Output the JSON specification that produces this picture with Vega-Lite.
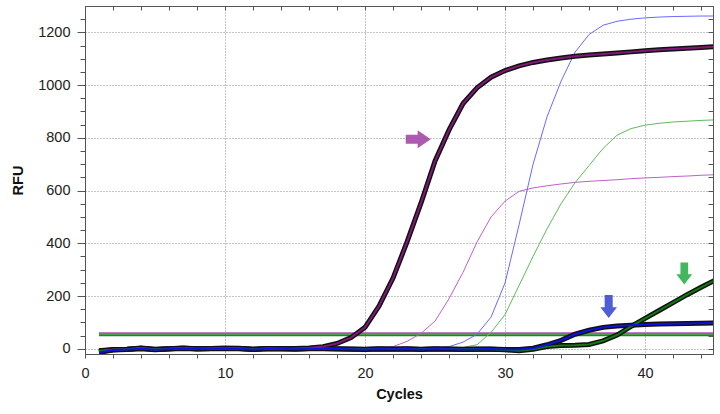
{
  "$schema": "https://vega.github.io/schema/vega-lite/v6.json",
  "width": 628,
  "height": 348,
  "autosize": {"type": "none"},
  "padding": {"left": 85, "top": 6, "right": 7, "bottom": 60},
  "background": "white",
  "config": {
    "view": {"stroke": "#555"},
    "font": "Liberation Sans",
    "axis": {"labelFont": "Liberation Sans", "titleFont": "Liberation Sans", "labelFontSize": 14.5, "titleFontSize": 14.5, "labelColor": "#222", "titleColor": "#111", "domainColor": "#555", "tickColor": "#555", "labelOverlap": false, "labelFlush": false}
  },
  "datasets": {
    "thr": [
      {"s": "T1", "c": 1, "v": 59}, {"s": "T1", "c": 45, "v": 59},
      {"s": "T2", "c": 1, "v": 51}, {"s": "T2", "c": 45, "v": 51}
    ],
    "thin": [
      {"s":"S2","c":1,"v":0},{"s":"S2","c":2,"v":0},{"s":"S2","c":3,"v":1},{"s":"S2","c":4,"v":1},{"s":"S2","c":5,"v":0},{"s":"S2","c":6,"v":0},{"s":"S2","c":7,"v":1},{"s":"S2","c":8,"v":0},{"s":"S2","c":9,"v":0},{"s":"S2","c":10,"v":1},{"s":"S2","c":11,"v":1},{"s":"S2","c":12,"v":0},{"s":"S2","c":13,"v":0},{"s":"S2","c":14,"v":1},{"s":"S2","c":15,"v":0},{"s":"S2","c":16,"v":0},{"s":"S2","c":17,"v":1},{"s":"S2","c":18,"v":1},{"s":"S2","c":19,"v":0},{"s":"S2","c":20,"v":1},{"s":"S2","c":21,"v":2},{"s":"S2","c":22,"v":8},{"s":"S2","c":23,"v":28},{"s":"S2","c":24,"v":58},{"s":"S2","c":25,"v":105},{"s":"S2","c":26,"v":190},{"s":"S2","c":27,"v":290},{"s":"S2","c":28,"v":405},{"s":"S2","c":29,"v":500},{"s":"S2","c":30,"v":560},{"s":"S2","c":31,"v":597},{"s":"S2","c":32,"v":610},{"s":"S2","c":33,"v":618},{"s":"S2","c":34,"v":625},{"s":"S2","c":35,"v":631},{"s":"S2","c":36,"v":635},{"s":"S2","c":37,"v":638},{"s":"S2","c":38,"v":641},{"s":"S2","c":39,"v":645},{"s":"S2","c":40,"v":648},{"s":"S2","c":41,"v":650},{"s":"S2","c":42,"v":653},{"s":"S2","c":43,"v":655},{"s":"S2","c":44,"v":658},{"s":"S2","c":45,"v":660},
      {"s":"S3","c":1,"v":0},{"s":"S3","c":2,"v":0},{"s":"S3","c":3,"v":0},{"s":"S3","c":4,"v":1},{"s":"S3","c":5,"v":0},{"s":"S3","c":6,"v":0},{"s":"S3","c":7,"v":1},{"s":"S3","c":8,"v":0},{"s":"S3","c":9,"v":0},{"s":"S3","c":10,"v":1},{"s":"S3","c":11,"v":0},{"s":"S3","c":12,"v":0},{"s":"S3","c":13,"v":0},{"s":"S3","c":14,"v":1},{"s":"S3","c":15,"v":0},{"s":"S3","c":16,"v":0},{"s":"S3","c":17,"v":0},{"s":"S3","c":18,"v":1},{"s":"S3","c":19,"v":0},{"s":"S3","c":20,"v":0},{"s":"S3","c":21,"v":0},{"s":"S3","c":22,"v":0},{"s":"S3","c":23,"v":1},{"s":"S3","c":24,"v":1},{"s":"S3","c":25,"v":2},{"s":"S3","c":26,"v":8},{"s":"S3","c":27,"v":25},{"s":"S3","c":28,"v":55},{"s":"S3","c":29,"v":120},{"s":"S3","c":30,"v":250},{"s":"S3","c":31,"v":470},{"s":"S3","c":32,"v":700},{"s":"S3","c":33,"v":880},{"s":"S3","c":34,"v":1015},{"s":"S3","c":35,"v":1125},{"s":"S3","c":36,"v":1192},{"s":"S3","c":37,"v":1227},{"s":"S3","c":38,"v":1242},{"s":"S3","c":39,"v":1250},{"s":"S3","c":40,"v":1255},{"s":"S3","c":41,"v":1258},{"s":"S3","c":42,"v":1260},{"s":"S3","c":43,"v":1261},{"s":"S3","c":44,"v":1262},{"s":"S3","c":45,"v":1262},
      {"s":"S4","c":1,"v":0},{"s":"S4","c":2,"v":0},{"s":"S4","c":3,"v":0},{"s":"S4","c":4,"v":0},{"s":"S4","c":5,"v":0},{"s":"S4","c":6,"v":1},{"s":"S4","c":7,"v":0},{"s":"S4","c":8,"v":0},{"s":"S4","c":9,"v":1},{"s":"S4","c":10,"v":0},{"s":"S4","c":11,"v":0},{"s":"S4","c":12,"v":0},{"s":"S4","c":13,"v":1},{"s":"S4","c":14,"v":0},{"s":"S4","c":15,"v":0},{"s":"S4","c":16,"v":0},{"s":"S4","c":17,"v":1},{"s":"S4","c":18,"v":0},{"s":"S4","c":19,"v":0},{"s":"S4","c":20,"v":0},{"s":"S4","c":21,"v":0},{"s":"S4","c":22,"v":1},{"s":"S4","c":23,"v":0},{"s":"S4","c":24,"v":0},{"s":"S4","c":25,"v":1},{"s":"S4","c":26,"v":1},{"s":"S4","c":27,"v":5},{"s":"S4","c":28,"v":15},{"s":"S4","c":29,"v":62},{"s":"S4","c":30,"v":130},{"s":"S4","c":31,"v":240},{"s":"S4","c":32,"v":350},{"s":"S4","c":33,"v":455},{"s":"S4","c":34,"v":550},{"s":"S4","c":35,"v":630},{"s":"S4","c":36,"v":695},{"s":"S4","c":37,"v":760},{"s":"S4","c":38,"v":810},{"s":"S4","c":39,"v":835},{"s":"S4","c":40,"v":848},{"s":"S4","c":41,"v":855},{"s":"S4","c":42,"v":860},{"s":"S4","c":43,"v":863},{"s":"S4","c":44,"v":866},{"s":"S4","c":45,"v":868}
    ],
    "thick": [
      {"s":"S1","c":1,"v":-8},{"s":"S1","c":2,"v":-3},{"s":"S1","c":3,"v":-2},{"s":"S1","c":4,"v":3},{"s":"S1","c":5,"v":-2},{"s":"S1","c":6,"v":0},{"s":"S1","c":7,"v":3},{"s":"S1","c":8,"v":0},{"s":"S1","c":9,"v":1},{"s":"S1","c":10,"v":2},{"s":"S1","c":11,"v":2},{"s":"S1","c":12,"v":-2},{"s":"S1","c":13,"v":1},{"s":"S1","c":14,"v":0},{"s":"S1","c":15,"v":1},{"s":"S1","c":16,"v":3},{"s":"S1","c":17,"v":8},{"s":"S1","c":18,"v":20},{"s":"S1","c":19,"v":42},{"s":"S1","c":20,"v":81},{"s":"S1","c":21,"v":162},{"s":"S1","c":22,"v":268},{"s":"S1","c":23,"v":405},{"s":"S1","c":24,"v":553},{"s":"S1","c":25,"v":712},{"s":"S1","c":26,"v":830},{"s":"S1","c":27,"v":930},{"s":"S1","c":28,"v":990},{"s":"S1","c":29,"v":1030},{"s":"S1","c":30,"v":1055},{"s":"S1","c":31,"v":1073},{"s":"S1","c":32,"v":1086},{"s":"S1","c":33,"v":1095},{"s":"S1","c":34,"v":1103},{"s":"S1","c":35,"v":1109},{"s":"S1","c":36,"v":1114},{"s":"S1","c":37,"v":1118},{"s":"S1","c":38,"v":1122},{"s":"S1","c":39,"v":1126},{"s":"S1","c":40,"v":1130},{"s":"S1","c":41,"v":1134},{"s":"S1","c":42,"v":1137},{"s":"S1","c":43,"v":1140},{"s":"S1","c":44,"v":1143},{"s":"S1","c":45,"v":1146},
      {"s":"S6","c":1,"v":-10},{"s":"S6","c":2,"v":-4},{"s":"S6","c":3,"v":-2},{"s":"S6","c":4,"v":2},{"s":"S6","c":5,"v":-3},{"s":"S6","c":6,"v":0},{"s":"S6","c":7,"v":2},{"s":"S6","c":8,"v":0},{"s":"S6","c":9,"v":1},{"s":"S6","c":10,"v":2},{"s":"S6","c":11,"v":1},{"s":"S6","c":12,"v":-2},{"s":"S6","c":13,"v":1},{"s":"S6","c":14,"v":0},{"s":"S6","c":15,"v":-1},{"s":"S6","c":16,"v":1},{"s":"S6","c":17,"v":1},{"s":"S6","c":18,"v":0},{"s":"S6","c":19,"v":-1},{"s":"S6","c":20,"v":-2},{"s":"S6","c":21,"v":0},{"s":"S6","c":22,"v":-1},{"s":"S6","c":23,"v":0},{"s":"S6","c":24,"v":-2},{"s":"S6","c":25,"v":0},{"s":"S6","c":26,"v":-1},{"s":"S6","c":27,"v":-2},{"s":"S6","c":28,"v":-1},{"s":"S6","c":29,"v":-2},{"s":"S6","c":30,"v":-4},{"s":"S6","c":31,"v":-8},{"s":"S6","c":32,"v":-2},{"s":"S6","c":33,"v":8},{"s":"S6","c":34,"v":12},{"s":"S6","c":35,"v":13},{"s":"S6","c":36,"v":16},{"s":"S6","c":37,"v":30},{"s":"S6","c":38,"v":52},{"s":"S6","c":39,"v":85},{"s":"S6","c":40,"v":115},{"s":"S6","c":41,"v":145},{"s":"S6","c":42,"v":175},{"s":"S6","c":43,"v":205},{"s":"S6","c":44,"v":233},{"s":"S6","c":45,"v":260},
      {"s":"S5","c":1,"v":-14},{"s":"S5","c":2,"v":-5},{"s":"S5","c":3,"v":-3},{"s":"S5","c":4,"v":0},{"s":"S5","c":5,"v":-4},{"s":"S5","c":6,"v":-1},{"s":"S5","c":7,"v":1},{"s":"S5","c":8,"v":-1},{"s":"S5","c":9,"v":0},{"s":"S5","c":10,"v":1},{"s":"S5","c":11,"v":0},{"s":"S5","c":12,"v":-3},{"s":"S5","c":13,"v":0},{"s":"S5","c":14,"v":0},{"s":"S5","c":15,"v":-2},{"s":"S5","c":16,"v":0},{"s":"S5","c":17,"v":0},{"s":"S5","c":18,"v":-1},{"s":"S5","c":19,"v":-2},{"s":"S5","c":20,"v":-3},{"s":"S5","c":21,"v":-1},{"s":"S5","c":22,"v":-2},{"s":"S5","c":23,"v":-1},{"s":"S5","c":24,"v":-3},{"s":"S5","c":25,"v":-1},{"s":"S5","c":26,"v":-2},{"s":"S5","c":27,"v":-3},{"s":"S5","c":28,"v":-2},{"s":"S5","c":29,"v":-1},{"s":"S5","c":30,"v":-3},{"s":"S5","c":31,"v":-3},{"s":"S5","c":32,"v":2},{"s":"S5","c":33,"v":15},{"s":"S5","c":34,"v":32},{"s":"S5","c":35,"v":55},{"s":"S5","c":36,"v":70},{"s":"S5","c":37,"v":81},{"s":"S5","c":38,"v":86},{"s":"S5","c":39,"v":89},{"s":"S5","c":40,"v":92},{"s":"S5","c":41,"v":94},{"s":"S5","c":42,"v":95},{"s":"S5","c":43,"v":96},{"s":"S5","c":44,"v":97},{"s":"S5","c":45,"v":98}
    ],
    "arrowP": [{"c": 23.8, "v": 795}],
    "arrowB": [{"c": 37.4, "v": 160}],
    "arrowG": [{"c": 42.8, "v": 285}]
  },
  "layer": [
    {
      "data": {"name": "thr"},
      "mark": {"type": "line", "strokeWidth": 2, "clip": true},
      "encoding": {
        "x": {"field": "c", "type": "quantitative", "scale": {"domain": [0, 44.85], "nice": false, "zero": false},
          "axis": {"orient": "bottom", "title": "Cycles", "titleFontWeight": "bold", "titlePadding": 8,
            "values": [0,2,4,6,8,10,12,14,16,18,20,22,24,26,28,30,32,34,36,38,40,42,44],
            "labelExpr": "datum.value % 10 === 0 ? datum.label : ''",
            "tickSize": 4, "labelPadding": 8,
            "grid": true, "gridDash": [1, 2], "gridColor": "#888",
            "gridOpacity": {"condition": {"test": "datum.value % 10 === 0 && datum.value > 0", "value": 1}, "value": 0}}},
        "y": {"field": "v", "type": "quantitative", "scale": {"domain": [-20, 1300], "nice": false, "zero": false},
          "axis": {"orient": "left", "title": "RFU", "titleFontWeight": "bold", "titlePadding": 12, "format": "d",
            "values": [0,50,100,150,200,250,300,350,400,450,500,550,600,650,700,750,800,850,900,950,1000,1050,1100,1150,1200,1250],
            "labelExpr": "datum.value % 200 === 0 ? datum.label : ''",
            "tickSize": {"condition": {"test": "datum.value % 200 === 0", "value": 8}, "value": 5},
            "labelPadding": 7,
            "grid": true, "gridDash": [1, 2], "gridColor": "#888",
            "gridOpacity": {"condition": {"test": "datum.value % 200 === 0", "value": 1}, "value": 0}}},
        "detail": {"field": "s"},
        "color": {"field": "s", "type": "nominal", "legend": null,
          "scale": {"domain": ["S1","S2","S3","S4","S5","S6","T1","T2"], "range": ["#801878","#c060c8","#6a6aff","#5cbc5c","#1010e0","#107a10","#b050b8","#109010"]}}
      }
    },
    {
      "data": {"name": "thin"},
      "mark": {"type": "line", "strokeWidth": 1, "clip": true},
      "encoding": {
        "x": {"field": "c", "type": "quantitative",
          "axis": {"orient": "top", "title": null, "labels": false, "grid": false, "tickSize": -4,
            "values": [2,4,6,8,10,12,14,16,18,20,22,24,26,28,30,32,34,36,38,40,42,44]}},
        "y": {"field": "v", "type": "quantitative",
          "axis": {"orient": "right", "title": null, "labels": false, "grid": false, "tickSize": -5,
            "values": [0,50,100,150,200,250,300,350,400,450,500,550,600,650,700,750,800,850,900,950,1000,1050,1100,1150,1200,1250]}},
        "color": {"field": "s", "type": "nominal", "legend": null}
      }
    },
    {
      "data": {"name": "thick"},
      "mark": {"type": "line", "strokeWidth": 5, "color": "#111", "clip": true},
      "encoding": {
        "x": {"field": "c", "type": "quantitative", "axis": null},
        "y": {"field": "v", "type": "quantitative", "axis": null},
        "detail": {"field": "s"}
      }
    },
    {
      "data": {"name": "thick"},
      "mark": {"type": "line", "strokeWidth": 2, "clip": true},
      "encoding": {
        "x": {"field": "c", "type": "quantitative", "axis": null},
        "y": {"field": "v", "type": "quantitative", "axis": null},
        "color": {"field": "s", "type": "nominal", "legend": null}
      }
    },
    {
      "data": {"name": "arrowP"},
      "mark": {"type": "point", "filled": true, "opacity": 0.9, "color": "#a448a8", "size": 625,
        "shape": "M-1,-0.36L-0.05,-0.36L-0.05,-0.72L1,0L-0.05,0.72L-0.05,0.36L-1,0.36Z"},
      "encoding": {
        "x": {"field": "c", "type": "quantitative", "axis": null},
        "y": {"field": "v", "type": "quantitative", "axis": null}
      }
    },
    {
      "data": {"name": "arrowB"},
      "mark": {"type": "point", "filled": true, "opacity": 0.9, "color": "#3c4cd0", "size": 529,
        "shape": "M-0.35,-1L0.35,-1L0.35,0.06L0.72,0.06L0,1L-0.72,0.06L-0.35,0.06Z"},
      "encoding": {
        "x": {"field": "c", "type": "quantitative", "axis": null},
        "y": {"field": "v", "type": "quantitative", "axis": null}
      }
    },
    {
      "data": {"name": "arrowG"},
      "mark": {"type": "point", "filled": true, "opacity": 0.9, "color": "#2eb04c", "size": 484,
        "shape": "M-0.35,-1L0.35,-1L0.35,0.06L0.72,0.06L0,1L-0.72,0.06L-0.35,0.06Z"},
      "encoding": {
        "x": {"field": "c", "type": "quantitative", "axis": null},
        "y": {"field": "v", "type": "quantitative", "axis": null}
      }
    }
  ],
  "resolve": {"axis": {"x": "independent", "y": "independent"}}
}
